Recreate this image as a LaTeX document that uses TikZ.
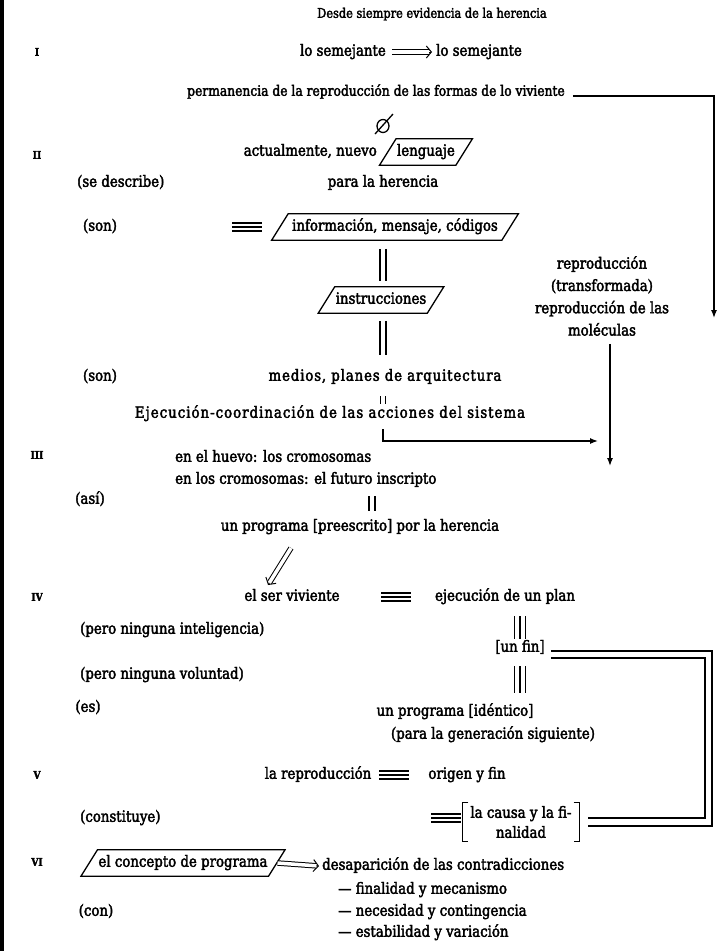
\documentclass[tikz,border=0pt]{standalone}
\usepackage{fontspec}
\setmainfont[FakeStretch=0.86, FakeBold=2.5]{DejaVu Serif}
\usetikzlibrary{arrows.meta,shapes.geometric,calc}
\tikzset{
  eqv/.pic={\draw[line width=1.2pt] (-15,-4) -- (15,-4) (-15,0) -- (15,0) (-15,4) -- (15,4);}
}
\newcommand\implar[2]{%
  \draw[line width=1pt, -{Straight Barb[length=5pt,width=12pt]}] (#1) -- (#2);
  \draw[line width=1pt, double distance=3.5pt, shorten >=2.6pt] (#1) -- (#2);}
\begin{document}
\begin{tikzpicture}[x=1pt,y=-1pt,
  every node/.style={inner sep=0pt, font=\fontsize{15.5}{20}\selectfont, text height=11pt, text depth=3.5pt},
  lbl/.style={anchor=west},
  multi/.style={text height=, text depth=, align=center},
  rom/.style={font=\fontsize{10.5}{12}\selectfont\bfseries, text height=7.5pt, text depth=0pt},
  para/.style={draw, line width=1.3pt, trapezium, trapezium left angle=58, trapezium right angle=122, inner xsep=1pt, inner ysep=6pt},
  ln/.style={line width=1.3pt},
  arr/.style={line width=1.3pt, -{Latex[length=8pt,width=6pt]}},
  dbl/.style={line width=1.3pt, double distance=4.5pt},
  sdbl/.style={line width=1pt, double distance=3.5pt},
  tdbl/.style={line width=1.3pt, double distance=10pt},
]
\useasboundingbox (0,0) rectangle (722,951);
\fill[black] (0,0) rectangle (3.5,951);

% title and I
\node[font=\fontsize{13.2}{16}\selectfont] (title) at (432,14) {Desde siempre evidencia de la herencia};
\node[rom] (r1) at (37,52) {I};
\node[anchor=east] (ls1) at (386,52) {lo semejante};
\node[anchor=west] (ls2) at (436,52) {lo semejante};
\coordinate (a1) at ([xshift=6pt]ls1.east);
\coordinate (a2) at ([xshift=-4pt]ls2.west);
\implar{a1}{a2}
\node[font=\fontsize{14.3}{18}\selectfont] (perm) at (376,92) {permanencia de la reproducción de las formas de lo viviente};
\coordinate (t1) at (714,318);
\draw[arr] ([xshift=8pt,yshift=-4pt]perm.east) -| (t1);

% empty set sign
\coordinate (nul) at (383,126);
\draw[ln] (nul) ellipse (6 and 6.5);
\draw[ln] ($(nul)+(-8,8)$) -- ($(nul)+(10,-12)$);

% II
\coordinate (cx) at (383,0);
\node[rom] (r2) at (37,155) {II};
\node[anchor=east] (act) at (377,152) {actualmente, nuevo};
\node[para, anchor=west] (leng) at (387,152) {lenguaje};
\node[lbl] (desc) at (77,183) {(se describe)};
\node (parah) at (383,183) {para la herencia};
\node (son1) at (100,227) {(son)};
\pic at (247,227) {eqv};
\node[para, inner xsep=4pt] (info) at (395,227) {información, mensaje, códigos};
\node[para] (instr) at (381,300) {instrucciones};
\draw[dbl, shorten <=8pt, shorten >=5pt] (info.south -| cx) -- (instr.north -| cx);
\node[font=\fontsize{15.5}{20}\selectfont\addfontfeature{LetterSpace=5.6}] (medios) at (385,377) {medios, planes de arquitectura};
\draw[dbl, shorten <=7pt, shorten >=15pt] (instr.south -| cx) -- (medios.north -| cx);
\node[multi, font=\fontsize{15.5}{22.3}\selectfont] (repro) at (602,296) {reproducción\\(transformada)\\reproducción de las\\moléculas};
\coordinate (t3) at (610,466);
\draw[arr] ([yshift=-8pt]repro.south -| t3) -- (t3);
\node (son2) at (100,377) {(son)};
\node[font=\fontsize{15.5}{20}\selectfont\addfontfeature{LetterSpace=6.5}] (ejec) at (330,414) {Ejecución-coordinación de las acciones del sistema};
\draw[sdbl, shorten <=12pt, shorten >=3pt] (medios.south -| cx) -- (ejec.north -| cx);
\coordinate (t2) at (598,441);
\draw[arr] ([yshift=-8pt]ejec.south -| cx) |- (t2);

% III
\node[rom] (r3) at (37,455) {III};
\node[lbl] (huevo) at (175,458) {en el huevo: los cromosomas};
\node[lbl] (cromo) at (175,480) {en los cromosomas: el futuro inscripto};
\node (asi) at (90,500) {(así)};
\node (progr) at (360,527) {un programa [preescrito] por la herencia};
\coordinate (cy) at (372,0);
\draw[dbl, shorten <=9pt, shorten >=9pt] (cromo.south -| cy) -- (progr.north -| cy);
\coordinate (d1) at (291,548);
\coordinate (d2) at (268,585);
\implar{d1}{d2}

% IV
\node[rom] (r4) at (37,597) {IV};
\node (ser) at (292,597) {el ser viviente};
\pic at (396,597) {eqv};
\node (plan) at (505,597) {ejecución de un plan};
\node[lbl] (intel) at (80,630) {(pero ninguna inteligencia)};
\node (unfin) at (520,648) {[un fin]};
\node[lbl] (volun) at (80,675) {(pero ninguna voluntad)};
\node (es) at (88,708) {(es)};
\node (prog2) at (455,712) {un programa [idéntico]};
\node (gen) at (493,735) {(para la generación siguiente)};
\coordinate (cz) at (520,0);
\draw[tdbl, shorten <=12pt, shorten >=2pt] (plan.south -| cz) -- (unfin.north -| cz);
\draw[ln, shorten <=12pt, shorten >=2pt] (plan.south -| cz) -- (unfin.north -| cz);
\draw[tdbl, shorten <=11pt, shorten >=12pt] (unfin.south -| cz) -- (prog2.north -| cz);
\draw[ln, shorten <=11pt, shorten >=12pt] (unfin.south -| cz) -- (prog2.north -| cz);

% V
\node[rom] (r5) at (37,775) {V};
\node (laR) at (318,775) {la reproducción};
\pic at (394,775) {eqv};
\node (origen) at (467,775) {origen y fin};
\node[lbl] (const) at (80,818) {(constituye)};
\pic at (446,818) {eqv};
\node[multi] (causa) at (521,822) {la causa y la fi-\\nalidad};
\draw[ln] ([xshift=-2pt,yshift=3pt]causa.north west) -- ([xshift=-8pt,yshift=3pt]causa.north west)
  -- ([xshift=-8pt,yshift=-3pt]causa.south west) -- ([xshift=-2pt,yshift=-3pt]causa.south west);
\draw[ln] ([xshift=2pt,yshift=3pt]causa.north east) -- ([xshift=8pt,yshift=3pt]causa.north east)
  -- ([xshift=8pt,yshift=-3pt]causa.south east) -- ([xshift=2pt,yshift=-3pt]causa.south east);

% double loop from [un fin] to the bracket
\coordinate (rO) at (712,0);
\coordinate (rI) at (705,0);
\draw[ln] ([xshift=6pt,yshift=-3pt]unfin.east) -- ([yshift=-3pt]unfin.east -| rO)
  -- ([yshift=-4pt]causa.east -| rO) -- ([xshift=16pt,yshift=-4pt]causa.east);
\draw[ln] ([xshift=6pt,yshift=-10pt]unfin.east) -- ([yshift=-10pt]unfin.east -| rI)
  -- ([yshift=4pt]causa.east -| rI) -- ([xshift=16pt,yshift=4pt]causa.east);

% VI
\node[rom] (r6) at (37,862) {VI};
\node[para] (conc) at (183,863) {el concepto de programa};
\node[lbl] (desap) at (322,866) {desaparición de las contradicciones};
\coordinate (a3) at (conc.east);
\coordinate (a4) at ([xshift=-3pt]desap.west);
\implar{a3}{a4}
\node[lbl] (i1) at (338,890) {— finalidad y mecanismo};
\node[lbl] (i2) at (338,912) {— necesidad y contingencia};
\node (con) at (96,912) {(con)};
\node[lbl] (i3) at (338,933) {— estabilidad y variación};
\end{tikzpicture}
\end{document}
